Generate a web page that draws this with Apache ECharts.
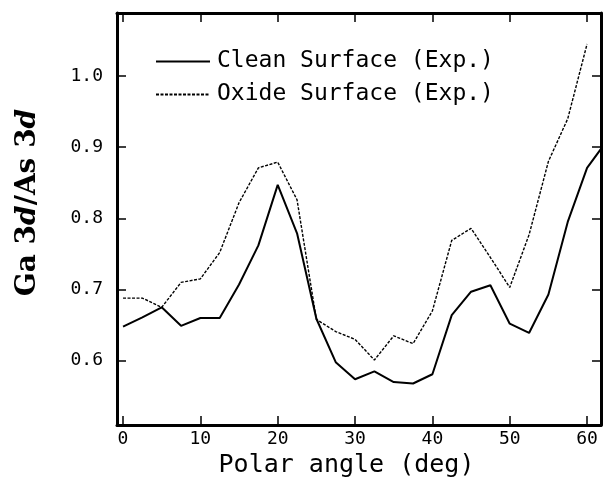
<!DOCTYPE html>
<html>
<head>
<meta charset="utf-8">
<script src="https://cdn.jsdelivr.net/npm/echarts@6/dist/echarts.min.js"></script>
<style>html,body{margin:0;padding:0;background:#fff;}#c{width:603px;height:496px;}</style>
</head>
<body>
<div id="c"></div>
<script>
var cleanAngles = [0,2.5,5,7.5,10,12.5,15,17.5,20,22.5,25,27.5,30,32.5,35,37.5,40,42.5,45,47.5,50,52.5,55,57.5,60,62.5];
var cleanValues = [0.648,0.661,0.675,0.649,0.660,0.660,0.707,0.762,0.847,0.779,0.659,0.598,0.574,0.585,0.570,0.568,0.581,0.664,0.697,0.706,0.652,0.639,0.693,0.795,0.871,0.908];
var oxideAngles = [0,2.5,5,7.5,10,12.5,15,17.5,20,22.5,25,27.5,30,32.5,35,37.5,40,42.5,45,47.5,50,52.5,55,57.5,60];
var oxideValues = [0.688,0.688,0.675,0.710,0.715,0.752,0.822,0.871,0.879,0.826,0.658,0.641,0.630,0.601,0.635,0.624,0.670,0.769,0.786,0.745,0.703,0.777,0.880,0.940,1.045];
var xTickValues = [0,10,20,30,40,50,60];
var yTickValues = [0.6,0.7,0.8,0.9,1.0];
var seriesNames = ['Clean Surface (Exp.)','Oxide Surface (Exp.)'];
var xName = 'Polar angle (deg)';

function pairs(xs, ys){ return xs.map(function(x,i){ return [x, ys[i]]; }); }

var X_MIN = -0.78, X_MAX = 61.8, Y_MIN = 0.5097, Y_MAX = 1.0885;
var mono = 'DejaVu Sans Mono';

function xAx(pos, show){
  return {
    type:'value', position:pos, min:X_MIN, max:X_MAX,
    axisLine:{show:true, onZero:false, lineStyle:{color:'#000', width:3}},
    axisTick:{show:true, inside:true, length:9, customValues:xTickValues, lineStyle:{color:'#000', width:1.5}},
    axisLabel:{show:show, customValues:xTickValues, margin:5, color:'#000', fontFamily:mono, fontSize:18},
    splitLine:{show:false}
  };
}
function yAx(pos, show){
  return {
    type:'value', position:pos, min:Y_MIN, max:Y_MAX,
    axisLine:{show:true, onZero:false, lineStyle:{color:'#000', width:3}},
    axisTick:{show:true, inside:true, length:9, customValues:yTickValues, lineStyle:{color:'#000', width:1.5}},
    axisLabel:{show:show, customValues:yTickValues, margin:14, color:'#000', fontFamily:mono, fontSize:18,
      formatter:function(v){ return v.toFixed(1); }},
    splitLine:{show:false}
  };
}

var bx = xAx('bottom', true);
bx.name = xName; bx.nameLocation = 'middle'; bx.nameGap = 26;
bx.nameTextStyle = {color:'#000', fontFamily:mono, fontSize:25, padding:[0,25,0,0]};
var tx = xAx('top', false);
var ly = yAx('left', true);
ly.name = '{n|Ga 3}{i|d}{n|/As 3}{i|d}'; ly.nameLocation = 'middle'; ly.nameGap = 75; ly.nameRotate = 90;
ly.nameTextStyle = {padding:[0,0,0,33], rich:{
  n:{fontFamily:'DejaVu Serif', fontWeight:'bold', fontSize:28, color:'#000'},
  i:{fontFamily:'DejaVu Serif', fontWeight:'bold', fontStyle:'italic', fontSize:28, color:'#000'}
}};
var ry = yAx('right', false);

var chart = echarts.init(document.getElementById('c'), null, {renderer:'canvas'});
chart.setOption({
  animation:false,
  backgroundColor:'#fff',
  grid:{left:117, right:2, top:13, bottom:71, containLabel:false},
  xAxis:[bx, tx],
  yAxis:[ly, ry],
  legend:{
    show:true, orient:'vertical', left:155, top:50, padding:0, itemWidth:54, itemHeight:14, itemGap:10,
    itemStyle:{opacity:0},
    textStyle:{color:'#000', fontFamily:mono, fontSize:23, padding:[0,0,0,2]},
    data:seriesNames
  },
  series:[
    {name:seriesNames[0], type:'line', xAxisIndex:0, yAxisIndex:0, data:pairs(cleanAngles, cleanValues),
      symbol:'none', clip:true, lineStyle:{color:'#000', width:2}, itemStyle:{color:'#000'}},
    {name:seriesNames[1], type:'line', xAxisIndex:0, yAxisIndex:0, data:pairs(oxideAngles, oxideValues),
      symbol:'none', clip:true, lineStyle:{color:'#000', width:1.4, type:[3,1.5]}, itemStyle:{color:'#000'}}
  ]
});
</script>
</body>
</html>
